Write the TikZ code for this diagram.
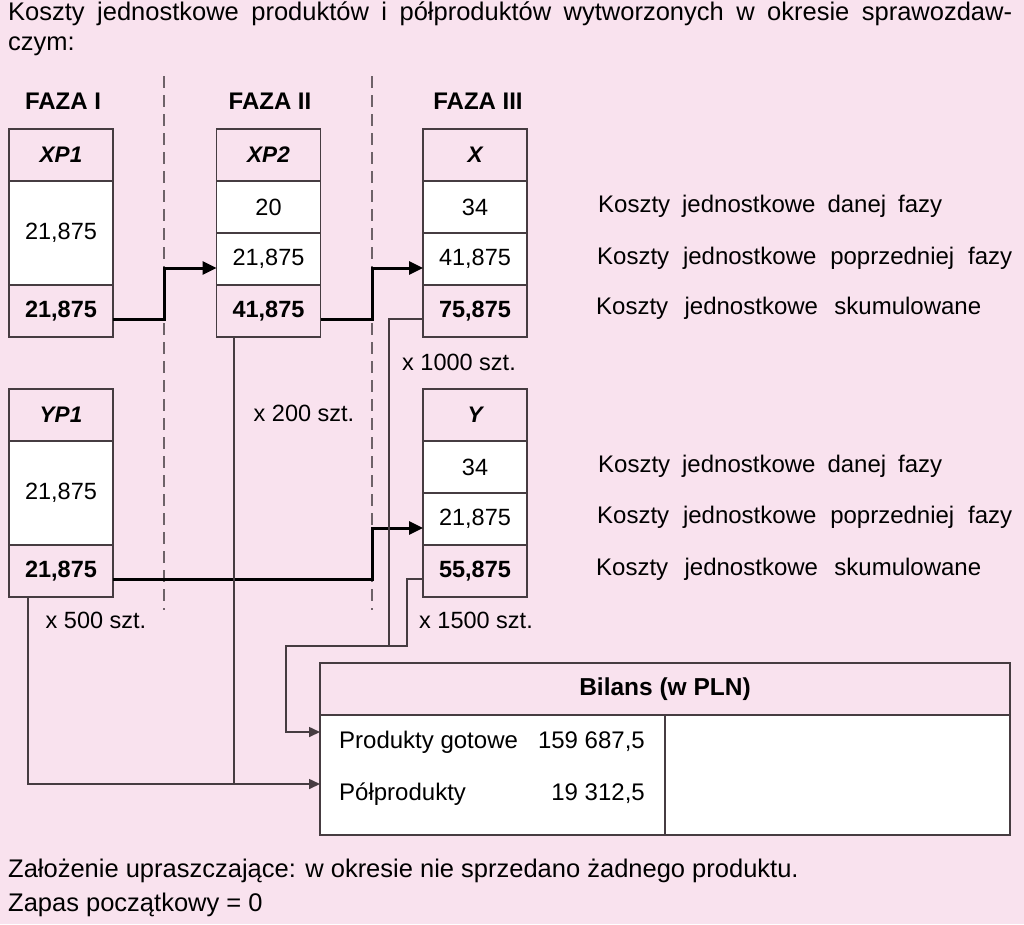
\documentclass[tikz,border=0pt]{standalone}
\usepackage{fontspec}
\setmainfont{Liberation Sans}
\usetikzlibrary{positioning,arrows.meta}
\definecolor{fazapink}{HTML}{F9E2EE}
\definecolor{fazaline}{HTML}{463C41}
\definecolor{fazadash}{HTML}{6E6268}
\begin{document}
\begin{tikzpicture}[x=1pt,y=-1pt,
  font=\fontsize{23.5}{27}\selectfont,
  hdr/.style={draw=fazaline,line width=1.6pt,fill=fazapink,minimum width=104pt,minimum height=52pt,outer sep=0pt,inner sep=0pt,font=\fontsize{22.5}{26}\selectfont\bfseries\itshape},
  cell/.style={draw=fazaline,line width=1.6pt,fill=white,minimum width=104pt,minimum height=52pt,outer sep=0pt,inner sep=0pt,font=\fontsize{23.5}{27}\selectfont},
  tot/.style={cell,fill=fazapink,font=\fontsize{23.5}{27}\selectfont\bfseries},
  faza/.style={font=\fontsize{24}{28}\selectfont\bfseries},
  txt/.style={inner sep=0pt},
  note/.style={txt,font=\fontsize{25.5}{30}\selectfont},
  lbl/.style={txt,font=\fontsize{24}{28}\selectfont},
  sep/.style={draw=fazadash,line width=1.5pt,dash pattern=on 12pt off 7pt},
  flow/.style={draw=black,line width=3pt,-{Triangle[length=14pt,width=13pt]}},
  feed/.style={draw=fazaline,line width=1.6pt,-{Triangle[length=11pt,width=10pt]}}
]
\fill[fazapink] (0,0) rectangle (1024,924);
\useasboundingbox (0,0) rectangle (1024,924);

% title and notes
\node[note,anchor=west] (title1) at (8,14) {\makebox[1004pt][s]{Koszty jednostkowe produktów i półproduktów wytworzonych w okresie sprawozdaw-}};
\node[note,anchor=west] (title2) at (8,46) {czym:};
\node[note,anchor=west] (note1) at (8,871) {Założenie upraszczające: w okresie nie sprzedano żadnego produktu.};
\node[note,anchor=west] (note2) at (8,905) {Zapas początkowy = 0};

% phases
\node[faza] (f1) at (63,101) {FAZA I};
\node[faza] (f2) at (270,101) {FAZA II};
\node[faza] (f3) at (478,101) {FAZA III};
\draw[sep] (164,76) -- (164,610);
\draw[sep] (372,76) -- (372,610);

% product X chain
\node[hdr] (xp1) at (61,155) {XP1};
\node[cell,minimum height=104pt,below=0pt of xp1] (xp1a) {21,875};
\node[tot,below=0pt of xp1a] (xp1s) {21,875};

\node[hdr] (xp2) at (268.5,155) {XP2};
\node[cell,below=0pt of xp2] (xp2a) {20};
\node[cell,below=0pt of xp2a] (xp2b) {21,875};
\node[tot,below=0pt of xp2b] (xp2s) {41,875};

\node[hdr] (x) at (475,155) {X};
\node[cell,below=0pt of x] (xa) {34};
\node[cell,below=0pt of xa] (xb) {41,875};
\node[tot,below=0pt of xb] (xs) {75,875};

% product Y chain
\node[hdr] (yp1) at (61,415) {YP1};
\node[cell,minimum height=104pt,below=0pt of yp1] (yp1a) {21,875};
\node[tot,below=0pt of yp1a] (yp1s) {21,875};

\node[hdr] (y) at (475,415) {Y};
\node[cell,below=0pt of y] (ya) {34};
\node[cell,below=0pt of ya] (yb) {21,875};
\node[tot,below=0pt of yb] (ys) {55,875};

% row labels
\node[lbl,anchor=west] (lx1) at (598,206) {\makebox[344pt][s]{Koszty jednostkowe danej fazy}};
\node[lbl,anchor=west] (lx2) at (597,258) {\makebox[415pt][s]{Koszty jednostkowe poprzedniej fazy}};
\node[lbl,anchor=west] (lx3) at (596,308) {\makebox[385pt][s]{Koszty jednostkowe skumulowane}};
\node[lbl,anchor=west] (ly1) at (598,466) {\makebox[344pt][s]{Koszty jednostkowe danej fazy}};
\node[lbl,anchor=west] (ly2) at (597,517) {\makebox[415pt][s]{Koszty jednostkowe poprzedniej fazy}};
\node[lbl,anchor=west] (ly3) at (596,569) {\makebox[385pt][s]{Koszty jednostkowe skumulowane}};

% quantities
\node (qx) at (459,362) {x 1000 szt.};
\node (qxp2) at (304,413) {x 200 szt.};
\node (qyp1) at (96,620) {x 500 szt.};
\node (qy) at (476,620) {x 1500 szt.};

% balance sheet
\node[hdr,font=\fontsize{24.5}{28}\selectfont\bfseries,minimum width=690pt] (bil) at (665,689) {Bilans (w PLN)};
\node[cell,minimum width=345pt,minimum height=120pt,anchor=north west] (bilL) at (bil.south west) {};
\node[cell,minimum width=345pt,minimum height=120pt,anchor=north west] (bilR) at (bilL.north east) {};
\node[lbl,anchor=west] (pgname) at (339,742) {Produkty gotowe};
\node[lbl,anchor=east] (pgval) at (645,742) {159 687,5};
\node[lbl,anchor=west] (ppname) at (339,794) {Półprodukty};
\node[lbl,anchor=east] (ppval) at (645,794) {19 312,5};

% cost transfers
\draw[flow] ([yshift=-8pt]xp1s.east) -- ++(51,0) |- ([yshift=-9pt]xp2b.west);
\draw[flow] ([yshift=-8pt]xp2s.east) -- ++(52,0) |- ([yshift=-9pt]xb.west);
\draw[flow] ([yshift=-8pt]yp1s.east) -- ++(259,0) |- ([yshift=-9pt]yb.west);

% stock into balance
\coordinate (j1) at (286,646);
\coordinate (bpg) at ([yshift=43pt]bilL.west);
\coordinate (bpp) at ([yshift=-9pt]bilL.west);
\coordinate (c2) at ([xshift=-34.5pt]xp2s.south);
\draw[feed,-] ([yshift=-8pt]ys.west) -- ++(-16,0) |- (j1);
\draw[feed] ([yshift=-8pt]xs.west) -- ++(-34,0) |- (j1) |- (bpg);
\draw[feed] ([xshift=-33pt]yp1s.south) |- (bpp);
\draw[feed,-] (c2) -- (c2 |- bpp);
\end{tikzpicture}
\end{document}
